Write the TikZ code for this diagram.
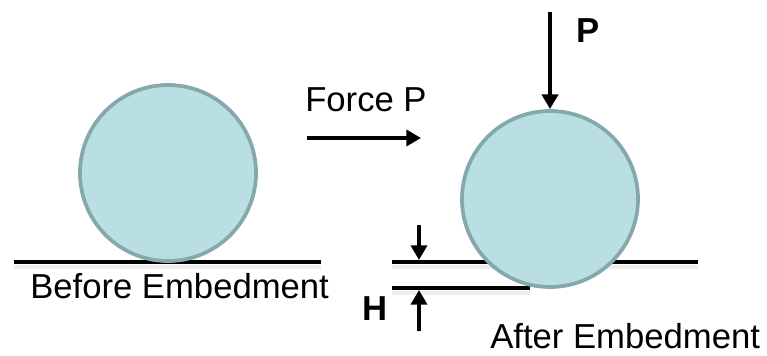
\documentclass[tikz,border=0pt]{standalone}
\usepackage{fontspec}
\setmainfont{Liberation Sans}
\usetikzlibrary{arrows.meta, positioning}

\definecolor{ballfill}{RGB}{185,223,227}
\definecolor{balledge}{RGB}{132,168,171}

\begin{document}
\begin{tikzpicture}[
    x=0.75pt, y=-0.75pt,
    ball/.style = {circle, draw=balledge, fill=ballfill, line width=2.8pt, minimum size=132pt, inner sep=0pt},
    ground/.style = {line width=2.8pt, black},
    groundshade/.style = {line width=3pt, black!7},
    caption/.style = {font=\fontsize{26}{30}\selectfont, inner sep=0pt},
    force/.style = {line width=2.8pt, -{Triangle[length=11pt, width=12pt]}},
    >=Triangle]

\useasboundingbox (0,0) rectangle (767,356);

% ground lines
\coordinate (L1) at (14,262);
\coordinate (L2) at (321,262);
\coordinate (R1) at (392,262);
\coordinate (R2) at (698,262);
\coordinate (S1) at (392,288);
\coordinate (S2) at (530,288);

\draw[groundshade] ([yshift=-4]L1) -- ([yshift=-4]L2);
\draw[groundshade] ([yshift=-4]R1) -- ([yshift=-4]R2);
\draw[groundshade] ([yshift=-4]S1) -- ([yshift=-4]S2);
\draw[ground] (L1) -- (L2);
\draw[ground] (R1) -- (R2);
\draw[ground] (S1) -- (S2);

% balls
\node[ball] (before) at (168,173) {};
\node[ball] (after) at (550,199) {};

% texts
\node[caption, anchor=base west] (beforetxt) at (30,298) {Before Embedment};
\node[caption, anchor=base west] (aftertxt) at (490,348) {After Embedment};
\node[caption, anchor=base west] (forcetxt) at (305,112) {Force P};
\node[caption, anchor=base west, font=\fontsize{26}{30}\selectfont\bfseries] (ptxt) at (576,43) {P};
\node[caption, anchor=base west, font=\fontsize{26}{30}\selectfont\bfseries] (htxt) at (362,320) {H};

% arrows
\coordinate (F1) at (307,138);
\coordinate (F2) at (421,138);
\coordinate (P1) at (550,12);
\coordinate (H1) at (419,225);
\coordinate (H2) at (419,260);
\coordinate (H3) at (419,331);
\coordinate (H4) at (419,290);

\draw[force] (F1) -- (F2);
\draw[force] (P1) -- (after.north);
\draw[force] (H1) -- (H2);
\draw[force] (H3) -- (H4);
\end{tikzpicture}
\end{document}
